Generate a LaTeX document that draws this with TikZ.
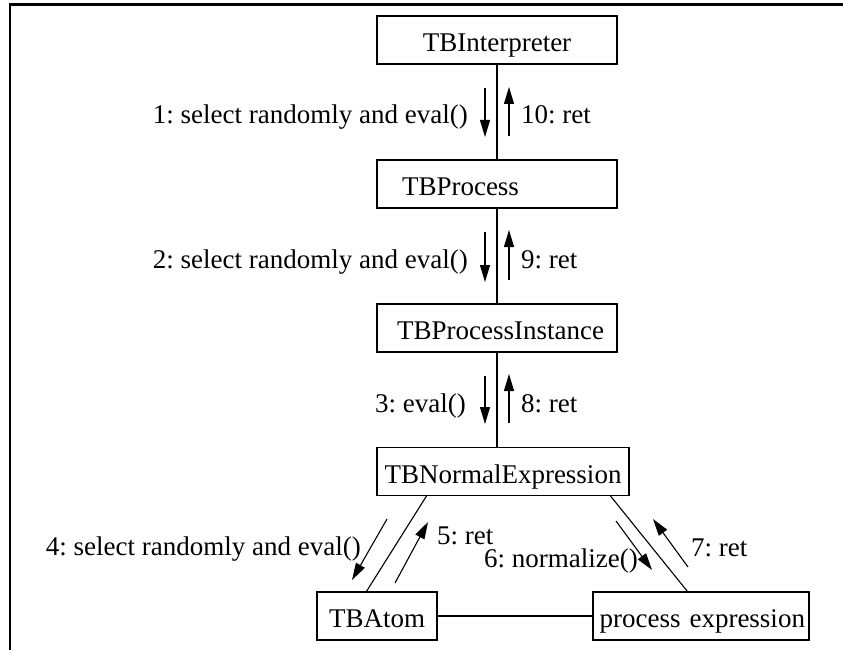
\documentclass[tikz,border=0pt]{standalone}
\usepackage{fontspec}
\setmainfont{Liberation Serif}
\usetikzlibrary{arrows.meta,calc}
\frenchspacing
\begin{document}
\frenchspacing
\begin{tikzpicture}[x=1pt,y=-1pt,
  box/.style={draw,line width=1.1pt,rectangle,minimum height=48pt,inner sep=0pt,
    text height=25pt,text depth=2pt,font=\fontsize{27}{31}\selectfont},
  lbl/.style={inner sep=0pt,font=\fontsize{27}{31}\selectfont},
  conn/.style={line width=1.1pt},
  msg/.style={line width=1.1pt,-{Triangle[length=17pt,width=10pt]}},
  frameline/.style={line width=2.5pt}]
\useasboundingbox (0,0) rectangle (843,650);
\fill[white] (0,0) rectangle (843,650);
\draw[frameline] (843,4.5) -- (10,4.5) -- (10,650);

% object boxes
\node[box,minimum width=240pt] (interp) at (497,40) {TBInterpreter};
\node[box,minimum width=240pt,text width=190pt,align=left,inner xsep=25pt] (proc) at (497,184) {TBProcess};
\node[box,minimum width=240pt,text width=214pt,align=right,inner xsep=13pt] (inst) at (497,328) {TBProcessInstance};
\node[box,minimum width=252pt] (norm) at (503,471.5) {TBNormalExpression};
\node[box,minimum width=120pt] (atom) at (377,616) {TBAtom};
\node[box,minimum width=216pt,text width=208pt,align=right,inner xsep=4pt] (pe) at (701,616) {process expression};

% links
\draw[conn] (interp.south) -- (proc.north);
\draw[conn] (proc.south) -- (inst.north);
\draw[conn] (inst.south) -- (inst.south |- norm.north);
\draw[conn] ($(norm.south west)+(50,0)$) -- ($(atom.north west)+(50,0)$);
\draw[conn] ($(norm.south east)+(-19,0)$) -- ($(pe.north west)+(95,0)$);
\draw[conn] (atom.east) -- (pe.west);

% message arrow ends
\coordinate (m1a) at (485,88);  \coordinate (m1b) at (485,137);
\coordinate (m10a) at (509,136); \coordinate (m10b) at (509,87);
\coordinate (m2a) at (485,232); \coordinate (m2b) at (485,282);
\coordinate (m9a) at (509,280); \coordinate (m9b) at (509,230);
\coordinate (m3a) at (485,376); \coordinate (m3b) at (485,424);
\coordinate (m8a) at (509,423); \coordinate (m8b) at (509,374);
\coordinate (m4a) at (387,519); \coordinate (m4b) at (352,580);
\coordinate (m5a) at (395,583); \coordinate (m5b) at (428,522);
\coordinate (m6a) at (616,521); \coordinate (m6b) at (652,570);
\coordinate (m7a) at (688,567); \coordinate (m7b) at (653,519);

\draw[msg] (m1a) -- (m1b);
\draw[msg] (m10a) -- (m10b);
\draw[msg] (m2a) -- (m2b);
\draw[msg] (m9a) -- (m9b);
\draw[msg] (m3a) -- (m3b);
\draw[msg] (m8a) -- (m8b);
\draw[msg] (m4a) -- (m4b);
\draw[msg] (m5a) -- (m5b);
\draw[msg] (m6a) -- (m6b);
\draw[msg] (m7a) -- (m7b);

% message labels
\node[lbl,anchor=base east] (l1) at (468,124) {1: select randomly and eval()};
\node[lbl,anchor=base west] (l10) at (521,124) {10: ret};
\node[lbl,anchor=base east] (l2) at (468,268) {2: select randomly and eval()};
\node[lbl,anchor=base west] (l9) at (521,268) {9: ret};
\node[lbl,anchor=base east] (l3) at (466,412) {3: eval()};
\node[lbl,anchor=base west] (l8) at (521,412) {8: ret};
\node[lbl,anchor=base east] (l4) at (361,555) {4: select randomly and eval()};
\node[lbl,anchor=base west] (l5) at (437,544) {5: ret};
\node[lbl,anchor=base west] (l6) at (484,567) {6: normalize()};
\node[lbl,anchor=base west] (l7) at (691,556) {7: ret};
\end{tikzpicture}
\end{document}
